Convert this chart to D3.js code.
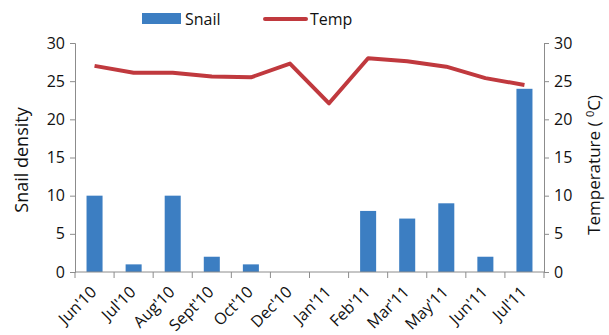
<!DOCTYPE html>
<html><head><meta charset="utf-8">
<script src="https://cdn.jsdelivr.net/npm/d3@7"></script>
<style>body{margin:0;background:#fff}svg text{font-family:"Open Sans","Noto Sans",sans-serif;fill:#111}</style>
</head><body><svg id="c" width="609" height="335"></svg>
<script>
const categories = ["Jun'10","Jul'10","Aug'10","Sept'10","Oct'10","Dec'10","Jan'11","Feb'11","Mar'11","May'11","Jun'11","Jul'11"];
const snail = [10,1,10,2,1,0,0,8,7,9,2,24];
const temp = [27.0,26.1,26.1,25.6,25.5,27.3,22.1,28.0,27.6,26.9,25.4,24.5];
const yTicks = [0,5,10,15,20,25,30];

const svg = d3.select("#c");
const L = 75, R = 544, T = 43, B = 272;
const x = d3.scaleBand().domain(categories).range([L, R]).paddingInner(0.59).paddingOuter(0.295);
const xb = d3.scaleBand().domain(categories).range([L, R]);
const yL = d3.scaleLinear().domain([0,30]).range([B, T]);
const yR = d3.scaleLinear().domain([0,30]).range([B, T]);
const grey = "#8c8c8c";
const blue = "#3c7ec2", red = "#c0393e";

// bars
svg.selectAll("rect.bar").data(categories).enter().append("rect")
  .attr("x", d => x(d)).attr("width", x.bandwidth())
  .attr("y", (d,i) => yL(snail[i])).attr("height", (d,i) => B - yL(snail[i]))
  .attr("fill", blue);

// line
const line = d3.line().x((d,i) => xb(categories[i]) + xb.bandwidth()/2).y(d => yR(d));
svg.append("path").datum(temp).attr("d", line).attr("fill","none")
  .attr("stroke",red).attr("stroke-width",4).attr("stroke-linejoin","round");

// axes
const styleAxis = g => { g.selectAll("path,line").attr("stroke", grey); g.selectAll("text").attr("font-size","16px").attr("fill","#111"); };
svg.append("g").attr("transform",`translate(${L},0)`)
  .call(d3.axisLeft(yL).tickValues(yTicks).tickSize(5).tickSizeOuter(5).tickPadding(5))
  .call(styleAxis);
svg.append("g").attr("transform",`translate(${R},0)`)
  .call(d3.axisRight(yR).tickValues(yTicks).tickSize(5).tickSizeOuter(5).tickPadding(5))
  .call(styleAxis);

// x axis line & ticks between categories
const xg = svg.append("g");
xg.append("line").attr("x1",L).attr("x2",R).attr("y1",B).attr("y2",B).attr("stroke",grey);
const bounds = categories.map(c => xb(c)).concat([R]);
xg.selectAll("line.t").data(bounds).enter().append("line")
  .attr("x1", d => d).attr("x2", d => d).attr("y1", B).attr("y2", B+6).attr("stroke", grey);
xg.selectAll("text").data(categories).enter().append("text")
  .attr("transform", d => `translate(${xb(d)+xb.bandwidth()/2+3},${B+21}) rotate(-45)`)
  .attr("text-anchor","end").attr("font-size","16px").text(d => d);

// axis titles
svg.append("text").attr("transform","translate(28,160) rotate(-90)").attr("text-anchor","middle")
  .attr("font-size","18px").text("Snail density");
const rt = svg.append("text").attr("transform","translate(600,165) rotate(-90)").attr("text-anchor","middle")
  .attr("font-size","17px");
rt.append("tspan").text("Temperature ( ");
rt.append("tspan").attr("font-size","11px").attr("dy","-6").text("0");
rt.append("tspan").attr("dy","6").text("C)");

// legend
svg.append("rect").attr("x",142).attr("y",13).attr("width",39).attr("height",11).attr("fill",blue);
svg.append("text").attr("x",185).attr("y",25).attr("font-size","16px").text("Snail");
svg.append("line").attr("x1",265).attr("x2",306).attr("y1",19).attr("y2",19).attr("stroke",red).attr("stroke-width",4).attr("stroke-linecap","round");
svg.append("text").attr("x",310).attr("y",25).attr("font-size","16px").text("Temp");
</script></body></html>
